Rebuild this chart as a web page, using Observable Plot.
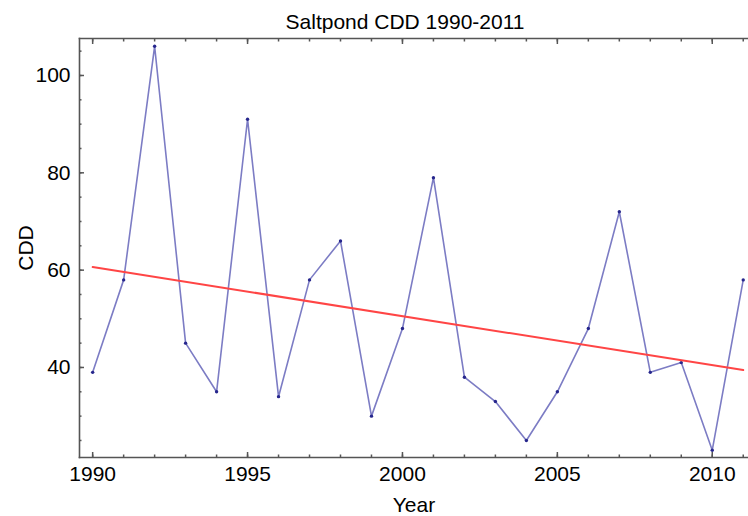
<!DOCTYPE html>
<html>
<head>
<meta charset="utf-8">
<script src="https://cdn.jsdelivr.net/npm/d3@7"></script>
<script src="https://cdn.jsdelivr.net/npm/@observablehq/plot@0.6"></script>
<style>
  html, body { margin: 0; padding: 0; background: #fff; }
</style>
</head>
<body>
<div id="chart"></div>
<script>
const titleText = "Saltpond CDD 1990-2011";
const xLabel = "Year";
const yLabel = "CDD";
const years = [1990, 1991, 1992, 1993, 1994, 1995, 1996, 1997, 1998, 1999, 2000, 2001, 2002, 2003, 2004, 2005, 2006, 2007, 2008, 2009, 2010, 2011];
const cdd = [39, 58, 106, 45, 35, 91, 34, 58, 66, 30, 48, 79, 38, 33, 25, 35, 48, 72, 39, 41, 23, 58];
const majorXTicks = [1990, 1995, 2000, 2005, 2010];
const minorXTicks = [1990, 1991, 1992, 1993, 1994, 1995, 1996, 1997, 1998, 1999, 2000, 2001, 2002, 2003, 2004, 2005, 2006, 2007, 2008, 2009, 2010, 2011];
const majorYTicks = [40, 60, 80, 100];
const minorYTicks = [25, 30, 35, 40, 45, 50, 55, 60, 65, 70, 75, 80, 85, 90, 95, 100, 105];

const data = years.map((year, i) => ({year, cdd: cdd[i]}));
const axisColor = "#555";

const chart = Plot.plot({
  width: 748,
  height: 516,
  marginLeft: 79,
  marginRight: 0,
  marginTop: 38,
  marginBottom: 59,
  style: {fontFamily: "'Liberation Sans', Arial, sans-serif", fontSize: "21px", color: "#000", background: "#fff"},
  x: {domain: [1989.575, 2011.17]},
  y: {domain: [21.5, 107.6]},
  marks: [
    Plot.frame({anchor: "left", stroke: axisColor, strokeWidth: 1.6}),
    Plot.frame({anchor: "top", stroke: axisColor, strokeWidth: 1.6}),
    Plot.frame({anchor: "bottom", stroke: axisColor, strokeWidth: 1.6}),
    // bottom ticks (inward)
    Plot.axisX(minorXTicks, {anchor: "bottom", tickSize: -2.5, tickFormat: () => "", stroke: axisColor, strokeWidth: 1.5, label: null}),
    Plot.axisX(majorXTicks, {anchor: "bottom", tickSize: -5, tickFormat: () => "", stroke: axisColor, strokeWidth: 1.5, label: null}),
    Plot.axisX(majorXTicks, {anchor: "bottom", tickSize: 0, tickPadding: 9, tickFormat: "d", fontSize: 21, label: xLabel, labelAnchor: "center", labelArrow: "none", labelOffset: 54}),
    // top ticks (inward)
    Plot.axisX(minorXTicks, {anchor: "top", tickSize: -2.5, tickFormat: () => "", stroke: axisColor, strokeWidth: 1.5, label: null}),
    Plot.axisX(majorXTicks, {anchor: "top", tickSize: -5, tickFormat: () => "", stroke: axisColor, strokeWidth: 1.5, label: null}),
    // left ticks (inward)
    Plot.axisY(minorYTicks, {anchor: "left", tickSize: -2.5, tickFormat: () => "", stroke: axisColor, strokeWidth: 1.5, label: null}),
    Plot.axisY(majorYTicks, {anchor: "left", tickSize: -5, tickFormat: () => "", stroke: axisColor, strokeWidth: 1.5, label: null}),
    Plot.axisY(majorYTicks, {anchor: "left", tickSize: 0, tickPadding: 9, tickFormat: "d", fontSize: 21, label: yLabel, labelAnchor: "center", labelArrow: "none", labelOffset: 61}),
    Plot.line(data, {x: "year", y: "cdd", stroke: "#7c7cc4", strokeWidth: 1.6}),
    Plot.dot(data, {x: "year", y: "cdd", r: 1.7, fill: "#26268c", stroke: null}),
    Plot.linearRegressionY(data, {x: "year", y: "cdd", stroke: "#ff4545", strokeWidth: 2, ci: 0}),
    Plot.text([titleText], {frameAnchor: "top", dx: -9, dy: -10, lineAnchor: "bottom", fontSize: 21, fill: "#000"})
  ]
});
document.getElementById("chart").appendChild(chart);
</script>
</body>
</html>
